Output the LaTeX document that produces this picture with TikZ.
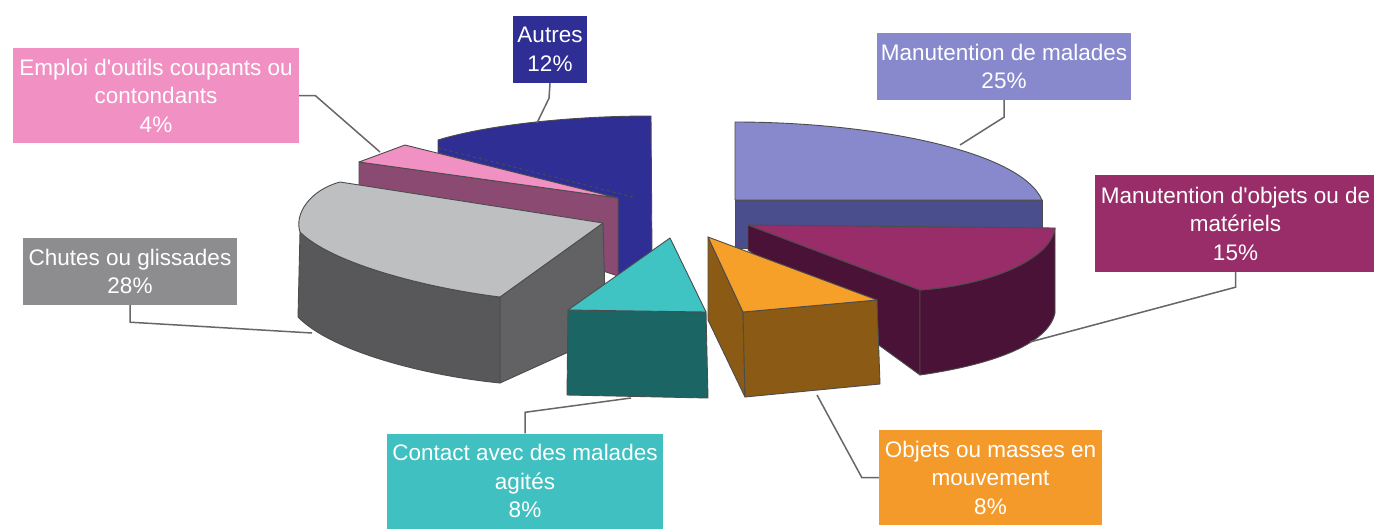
\documentclass[tikz,border=0pt]{standalone}
\usepackage{fontspec}
\setmainfont{Liberation Sans}
\definecolor{cBlue}{HTML}{2E2E95}
\definecolor{cLav}{HTML}{8889CC}
\definecolor{cLavD}{HTML}{4A4E8C}
\definecolor{cPink}{HTML}{F190C2}
\definecolor{cMauve}{HTML}{8A4A72}
\definecolor{cGrayT}{HTML}{BEBFC1}
\definecolor{cGrayF}{HTML}{58585A}
\definecolor{cGrayR}{HTML}{626264}
\definecolor{cGrayB}{HTML}{8D8D8F}
\definecolor{cMag}{HTML}{992D69}
\definecolor{cMagD}{HTML}{4A1236}
\definecolor{cTealT}{HTML}{3FC3C3}
\definecolor{cTealF}{HTML}{1B6565}
\definecolor{cTealB}{HTML}{40C0C0}
\definecolor{cOrT}{HTML}{F6A02A}
\definecolor{cOrF}{HTML}{8B5A14}
\definecolor{cOrB}{HTML}{F49A2A}
\definecolor{cLine}{HTML}{6A6666}
\tikzset{
  face/.style={draw=black!70, line width=0.9pt, line join=round},
  lbl/.style={text=white, align=center, inner sep=0pt,
    font=\fontsize{22.5}{28.5}\selectfont},
  conn/.style={draw=cLine, line width=1.5pt},
}
\begin{document}
\begin{tikzpicture}[x=1pt,y=-1pt]
\useasboundingbox (0,0) rectangle (1374,528);
\fill[white] (0,0) rectangle (1374,528);

% Autres (blue)
\path[face, fill=cBlue] (438,140) .. controls (480,127) and (560,116) .. (651,116)
  -- (652,258) -- (618,276) -- (618,200) -- (438,153) -- cycle;
\draw[black!70, dashed, line width=0.9pt] (438,148) -- (633,197);

% Manutention de malades (lavender)
\path[face, fill=cLavD] (735,200) rectangle (1042,248);
\path[face, fill=cLav] (735,122) .. controls (870,122) and (1020,150) .. (1042,200)
  -- (735,200) -- cycle;

% Emploi d'outils (pink)
\path[face, fill=cMauve] (359,162) -- (618,198) -- (618,276) -- (359,190) -- cycle;
\path[face, fill=cPink] (359,162) -- (405,145) -- (618,198) -- cycle;

% Chutes (gray)
\path[face, fill=cGrayR] (500,297) -- (603,223) -- (606,335) -- (500,383) -- cycle;
\path[face, fill=cGrayF] (300,232) .. controls (330,262) and (420,287) .. (500,297)
  -- (500,383) .. controls (420,375) and (330,350) .. (298,317) -- cycle;
\path[face, fill=cGrayT] (340,182) -- (603,223) -- (500,297)
  .. controls (420,287) and (330,262) .. (300,232)
  .. controls (294,214) and (310,190) .. (340,182) -- cycle;

% Manutention d'objets (magenta)
\path[face, fill=cMagD] (748,225) -- (920,290) -- (920,375) -- (748,250) -- cycle;
\path[face, fill=cMagD] (920,290) .. controls (990,285) and (1050,260) .. (1055,228)
  -- (1055,313) .. controls (1048,345) and (990,365) .. (920,375) -- cycle;
\path[face, fill=cMag] (748,225) -- (1055,228) .. controls (1050,260) and (990,285) .. (920,290) -- cycle;

% Contact (teal)
\path[face, fill=cTealF] (568,310) -- (706,312) -- (708,398) -- (567,395) -- cycle;
\path[face, fill=cTealT] (568,310) -- (670,238) -- (706,312) -- cycle;

% Objets (orange)
\path[face, fill=cOrF] (708,237) -- (743,312) -- (745,397) -- (708,320) -- cycle;
\path[face, fill=cOrF] (743,312) -- (877,300) -- (880,384) -- (745,397) -- cycle;
\path[face, fill=cOrT] (708,237) -- (877,300) -- (743,312) -- cycle;

% labels
\node[lbl, fill=cPink, minimum width=286pt, minimum height=95pt] (lpink) at (156,95.5)
  {Emploi d\textquotesingle outils coupants ou\\contondants\\4\%};
\node[lbl, fill=cBlue, minimum width=74pt, minimum height=67pt] (lautres) at (550,49.5)
  {Autres\\12\%};
\node[lbl, fill=cLav, minimum width=254pt, minimum height=67pt] (llav) at (1004,66.5)
  {Manutention de malades\\25\%};
\node[lbl, fill=cMag, minimum width=281pt, minimum height=97pt] (lmag) at (1235.5,223.5)
  {Manutention d\textquotesingle objets ou de\\matériels\\15\%};
\node[lbl, fill=cGrayB, minimum width=214pt, minimum height=67pt] (lchutes) at (130,271.5)
  {Chutes ou glissades\\28\%};
\node[lbl, fill=cTealB, minimum width=276pt, minimum height=95pt] (lteal) at (525,481)
  {Contact avec des malades\\agités\\8\%};
\node[lbl, fill=cOrB, minimum width=223pt, minimum height=95pt] (lorange) at (990.5,477.5)
  {Objets ou masses en\\mouvement\\8\%};

% connector end points on slices
\coordinate (cpink) at (380,152);
\coordinate (cautres) at (537,123);
\coordinate (clav) at (960,145);
\coordinate (cmag) at (1030,342);
\coordinate (cchutes) at (312,333);
\coordinate (cteal) at (631,398);
\coordinate (corange) at (817,395);

\draw[conn] (lpink.east) -- ++(16,0) -- (cpink);
\draw[conn] (lautres.south) -- ++(-1,15) -- (cautres);
\draw[conn] (llav.south) -- ++(0,17) -- (clav);
\draw[conn] (lmag.south) -- ++(0,15) -- (cmag);
\draw[conn] (lchutes.south) -- ++(0,17) -- (cchutes);
\draw[conn] (lteal.north) -- ++(0,-21) -- (cteal);
\draw[conn] (lorange.west) -- ++(-17,0) -- (corange);
\end{tikzpicture}
\end{document}
